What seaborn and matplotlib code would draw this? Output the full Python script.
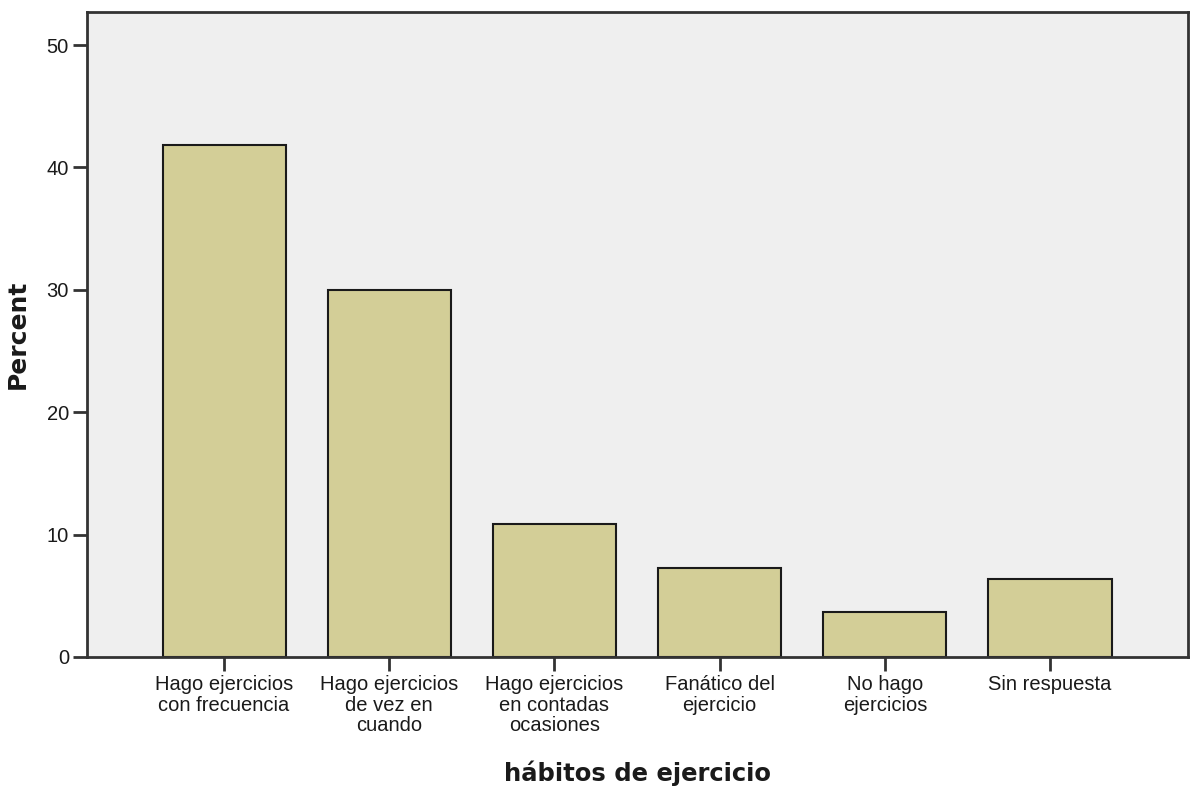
# bar chart of exercise habits (percent of respondents)

import pandas as pd
import seaborn as sns
import matplotlib.pyplot as plt

#----------------------------------------------------------------------------#

habits = ['Hago ejercicios\ncon frecuencia', 'Hago ejercicios\nde vez en\ncuando',
          'Hago ejercicios\nen contadas\nocasiones', 'Fanático del\nejercicio',
          'No hago\nejercicios', 'Sin respuesta']
percent = [41.8, 30.0, 10.9, 7.3, 3.7, 6.4]
y_ticks = [0, 10, 20, 30, 40, 50]

df = pd.DataFrame({'habit': habits, 'percent': percent})

sns.set_style('white')
plt.rcParams['font.family'] = ['Liberation Sans', 'DejaVu Sans']

fig = plt.figure(figsize=(11.95, 7.92), dpi=100)
ax = fig.add_axes([0.0728, 0.1705, 0.9213, 0.8143])

sns.barplot(data=df, x='habit', y='percent', color='#D3CE97', saturation=1,
            edgecolor='#1a1a1a', linewidth=1.5, width=0.745, ax=ax)

ax.set_facecolor('#EFEFEF')
ax.set_xlim(-0.83, 5.835)
ax.set_ylim(0, 52.7)
ax.set_yticks(y_ticks)

for s in ax.spines.values():
    s.set_visible(True)
    s.set_color('#333333')
    s.set_linewidth(2)

ax.tick_params(axis='both', direction='out', length=10, width=2,
               color='#333333', labelsize=14.5, labelcolor='#1a1a1a', pad=3,
               bottom=True, left=True)
for lbl in ax.get_xticklabels():
    lbl.set_linespacing(1.1)

ax.set_xlabel('hábitos de ejercicio', family='DejaVu Sans', fontweight='bold',
              fontsize=17.5, labelpad=18, color='#1a1a1a')
ax.set_ylabel('Percent', family='DejaVu Sans', fontweight='bold',
              fontsize=18, labelpad=12, color='#1a1a1a')

plt.savefig('out.png', dpi=100)
